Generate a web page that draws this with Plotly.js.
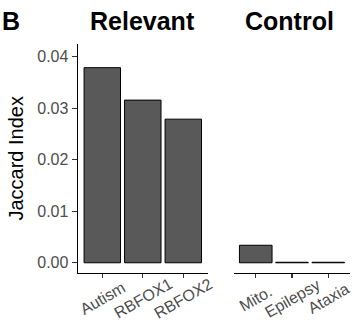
<!DOCTYPE html>
<html>
<head>
<meta charset="utf-8">
<script src="https://cdn.plot.ly/plotly-3.0.1.min.js"></script>
<style>html,body{margin:0;padding:0;background:#fff;}#chart{width:357px;height:324px;}</style>
</head>
<body>
<div id="chart"></div>
<script>
const relevantCategories = ['Autism', 'RBFOX1', 'RBFOX2'];
const relevantValues = [0.0379, 0.0316, 0.0279];
const controlCategories = ['Mito.', 'Epilepsy', 'Ataxia'];
const controlValues = [0.0034, 0.0001, 0.0001];
const yTickValues = [0, 0.01, 0.02, 0.03, 0.04];
const yTickLabels = ['0.00', '0.01', '0.02', '0.03', '0.04'];
const facetTitles = ['Relevant', 'Control'];
const panelLabel = 'B';
const yTitle = 'Jaccard Index';

const FONT = 'Liberation Sans, Arial, Helvetica, sans-serif';
const W = 357, H = 324;
const xDom1 = [78 / W, 207.6 / W];
const xDom2 = [234 / W, 350 / W];
const yDom = [(H - 272.7) / H, (H - 44) / H];

const barStyle = {color: '#595959', line: {color: '#000', width: 1}};

const traces = [
  {type: 'bar', x: relevantCategories, y: relevantValues, xaxis: 'x', yaxis: 'y', width: 0.9, marker: barStyle, hoverinfo: 'none'},
  {type: 'bar', x: controlCategories, y: controlValues, xaxis: 'x2', yaxis: 'y', width: 0.9, marker: barStyle, hoverinfo: 'none'}
];

const xCommon = {
  type: 'category', range: [-0.6, 2.6], showline: true, linecolor: '#000', linewidth: 1.4,
  ticks: 'outside', ticklen: 4, tickwidth: 1.2, tickcolor: '#333', showticklabels: false,
  showgrid: false, zeroline: false, fixedrange: true, anchor: 'y'
};

const annotations = [];
function addLabels(cats, xref) {
  cats.forEach(c => annotations.push({
    xref: xref, yref: 'paper', x: c, y: (H - 298) / H, text: c, textangle: -30,
    showarrow: false, xanchor: 'center', yanchor: 'middle',
    font: {family: FONT, size: 16, color: '#4d4d4d'}
  }));
}
addLabels(relevantCategories, 'x');
addLabels(controlCategories, 'x2');
annotations.push({xref: 'paper', yref: 'paper', x: (xDom1[0] + xDom1[1]) / 2, y: (H - 21) / H,
  text: facetTitles[0], showarrow: false, xanchor: 'center', yanchor: 'middle',
  font: {family: FONT, size: 25, color: '#000', weight: 'bold'}});
annotations.push({xref: 'paper', yref: 'paper', x: (xDom2[0] + xDom2[1]) / 2 - 3 / W, y: (H - 21) / H,
  text: facetTitles[1], showarrow: false, xanchor: 'center', yanchor: 'middle',
  font: {family: FONT, size: 25, color: '#000', weight: 'bold'}});
annotations.push({xref: 'paper', yref: 'paper', x: 0, y: (H - 21) / H,
  text: panelLabel, showarrow: false, xanchor: 'left', yanchor: 'middle',
  font: {family: FONT, size: 25, color: '#000', weight: 'bold'}});

const layout = {
  width: W, height: H, margin: {l: 0, r: 0, t: 0, b: 0},
  paper_bgcolor: '#fff', plot_bgcolor: '#fff', showlegend: false,
  font: {family: FONT},
  xaxis: Object.assign({}, xCommon, {domain: xDom1}),
  xaxis2: Object.assign({}, xCommon, {domain: xDom2}),
  yaxis: {
    domain: yDom, range: [-0.00193, 0.0425], tickvals: yTickValues, ticktext: yTickLabels,
    ticks: 'outside', ticklen: 5, tickwidth: 1.2, tickcolor: '#333',
    tickfont: {family: FONT, size: 16, color: '#4d4d4d'},
    showline: true, linecolor: '#000', linewidth: 1.4, showgrid: false, zeroline: false,
    fixedrange: true, anchor: 'x',
    title: {text: yTitle, font: {family: FONT, size: 20, color: '#000'}, standoff: 8}
  },
  annotations: annotations
};

Plotly.newPlot('chart', traces, layout, {displayModeBar: false, staticPlot: true});
</script>
</body>
</html>
